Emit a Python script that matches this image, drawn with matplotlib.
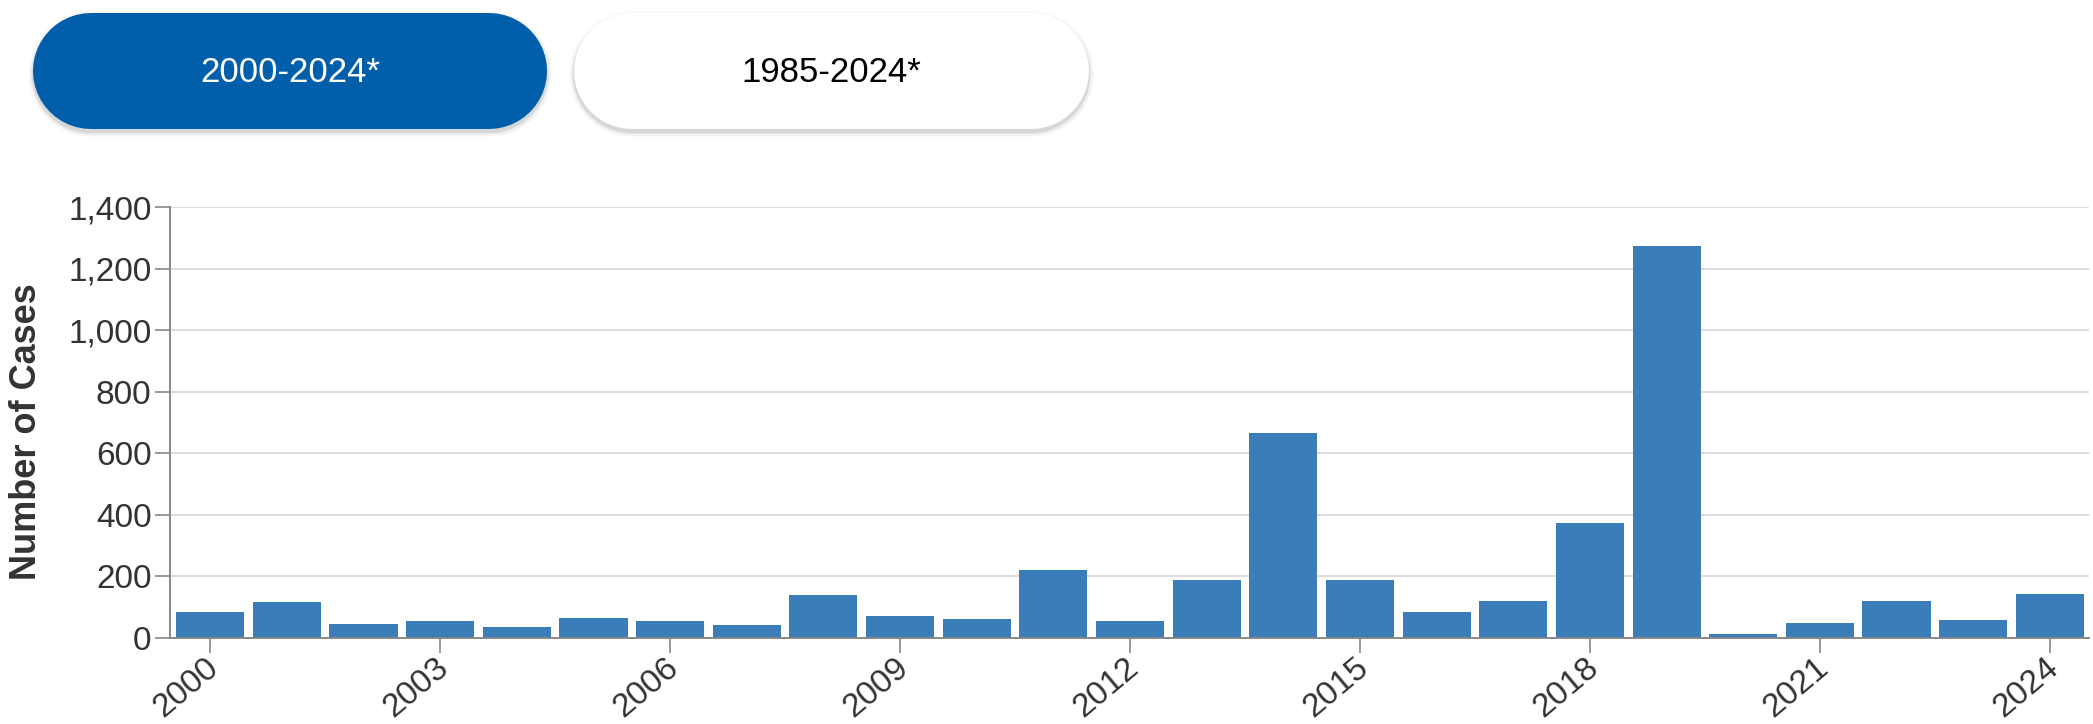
import matplotlib
matplotlib.use("Agg")
import matplotlib.pyplot as plt
from matplotlib.transforms import ScaledTranslation
import numpy as np

plt.rcParams["font.family"] = ["Liberation Sans", "DejaVu Sans"]

# ==================== DATA ====================
years = list(range(2000, 2025))
cases = [86, 116, 44, 56, 37, 66, 55, 43, 140, 71,
         63, 220, 55, 187, 667, 188, 86, 120, 375, 1274,
         13, 49, 121, 59, 143]
tick_years = [2000, 2003, 2006, 2009, 2012, 2015, 2018, 2021, 2024]
y_ticks = [0, 200, 400, 600, 800, 1000, 1200, 1400]
buttons = ["2000-2024*", "1985-2024*"]

BAR = "#3a7db8"
TXT = "#333333"
AXIS = "#888888"

# ==================== FIGURE ====================
W, H = 2093, 724
fig = plt.figure(figsize=(W / 100, H / 100), dpi=100)
ax = fig.add_axes([169.5 / W, 1 - 638 / H, (2089 - 169.5) / W, (638 - 207) / H])

x = np.arange(len(years))
ax.bar(x, cases, width=0.89, color=BAR, zorder=3)

ax.set_xlim(-0.53, len(years) - 0.49)
ax.set_ylim(0, 1400)
ax.set_yticks(y_ticks)
ax.set_yticklabels([f"{v:,}" for v in y_ticks])
tick_pos = [years.index(y) for y in tick_years]
ax.set_xticks(tick_pos)
ax.set_xticklabels([])

# rotated year labels, anchored at baseline-right just below each tick
shift = ScaledTranslation(10 / 100, -32 / 100, fig.dpi_scale_trans)
for p, y in zip(tick_pos, tick_years):
    ax.text(p, 0, str(y), transform=ax.get_xaxis_transform() + shift,
            rotation=40, rotation_mode="anchor", ha="right", va="baseline",
            fontsize=24, color=TXT)

ax.yaxis.grid(True, color="#dddddd", linewidth=1.4, zorder=0)
ax.set_axisbelow(True)
for s in ["top", "right"]:
    ax.spines[s].set_visible(False)
for s in ["left", "bottom"]:
    ax.spines[s].set_color(AXIS)
    ax.spines[s].set_linewidth(1.4)
    ax.spines[s].set_zorder(4)

ax.tick_params(axis="y", length=11, width=1.2, color=AXIS, labelsize=24,
               labelcolor=TXT, pad=2)
ax.tick_params(axis="x", length=11, width=1.2, color=AXIS)

fig.text(27 / W, 1 - 432 / H, "Number of Cases", rotation=90, ha="center",
         va="center", fontsize=26, fontweight="bold", color=TXT)

# ==================== BUTTONS ====================
ov = fig.add_axes([0, 0, 1, 1], zorder=-1)
ov.set_xlim(0, W)
ov.set_ylim(H, 0)
ov.axis("off")

pills = [(33, 547, "#005eaa", "white"), (574, 1089, "white", "black")]
top, bot = 13, 129
r = (bot - top) / 2
yc = (top + bot) / 2
for (x0, x1, fc, tc), label in zip(pills, buttons):
    # soft shadow
    for grow, a in [(10, 0.02), (7, 0.03), (4, 0.05), (2, 0.06)]:
        ov.plot([x0 + r, x1 - r], [yc + 3, yc + 3], color="black", alpha=a,
                lw=(2 * r + grow) * 0.72, solid_capstyle="round")
    ov.plot([x0 + r, x1 - r], [yc, yc], color=fc, lw=2 * r * 0.72,
            solid_capstyle="round")
    ov.text((x0 + x1) / 2, yc + 2, label, color=tc, fontsize=25,
            ha="center", va="center")

fig.savefig("out.png", dpi=100)
